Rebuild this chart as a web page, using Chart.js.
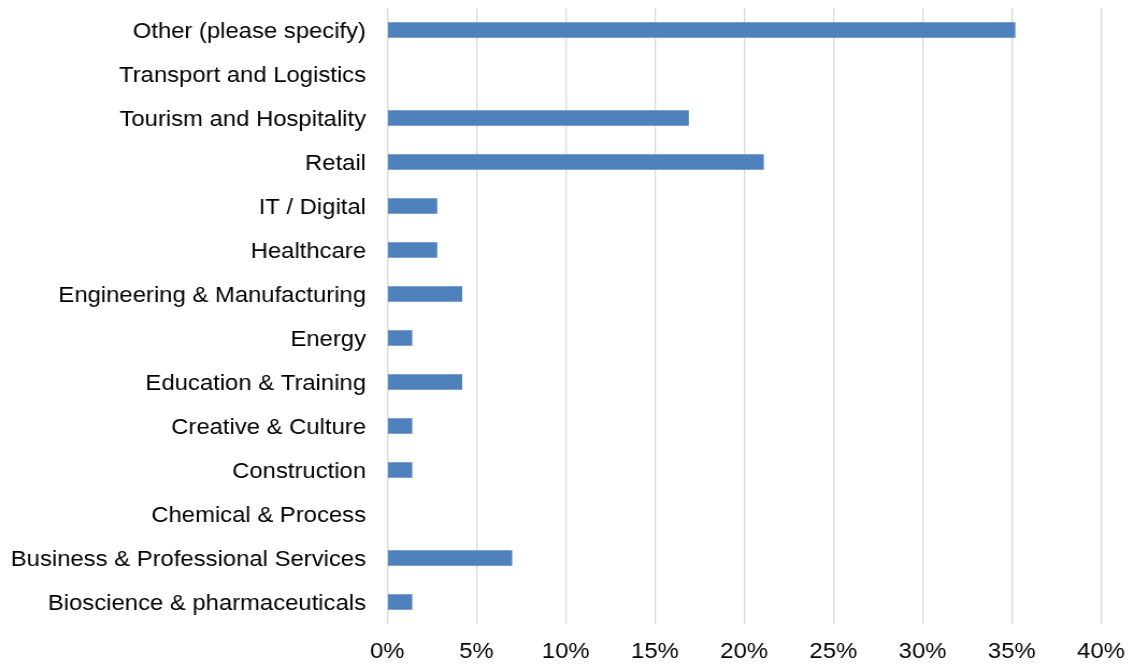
<!DOCTYPE html>
<html>
<head>
<meta charset="utf-8">
<script src="https://cdn.jsdelivr.net/npm/chart.js@4"></script>
<style>
  html, body { margin: 0; padding: 0; background: #ffffff; overflow: hidden; }
  #wrap { position: absolute; left: 0; top: 0; width: 1055px; height: 666px; transform: scaleX(1.07488); transform-origin: 0 0; }
</style>
</head>
<body>
<div id="wrap"><canvas id="c"></canvas></div>
<script>
const categories = [
  "Other (please specify)",
  "Transport and Logistics",
  "Tourism and Hospitality",
  "Retail",
  "IT / Digital",
  "Healthcare",
  "Engineering & Manufacturing",
  "Energy",
  "Education & Training",
  "Creative & Culture",
  "Construction",
  "Chemical & Process",
  "Business & Professional Services",
  "Bioscience & pharmaceuticals"
];
const shares = [35.2, 0, 16.9, 21.1, 2.8, 2.8, 4.2, 1.4, 4.2, 1.4, 1.4, 0, 7.0, 1.4];
const xTickValues = [0, 5, 10, 15, 20, 25, 30, 35, 40];

const FONT = { family: "'Liberation Sans', Arial, sans-serif", size: 22.2 };

function zeroPadding(axis) {
  axis.paddingTop = 0;
  axis.paddingBottom = 0;
  axis.paddingLeft = 0;
  axis.paddingRight = 0;
}

new Chart(document.getElementById('c'), {
  type: 'bar',
  data: {
    labels: categories,
    datasets: [{
      data: shares,
      backgroundColor: '#4f81bd',
      borderWidth: 0,
      barPercentage: 0.35,
      categoryPercentage: 1.0
    }]
  },
  options: {
    indexAxis: 'y',
    responsive: true,
    maintainAspectRatio: false,
    animation: false,
    devicePixelRatio: 1,
    layout: { padding: { left: 0, right: 30.7, top: 8, bottom: 0 } },
    plugins: { legend: { display: false }, tooltip: { enabled: false } },
    scales: {
      x: {
        min: 0,
        max: 40,
        afterBuildTicks: (axis) => { axis.ticks = xTickValues.map(v => ({ value: v })); },
        afterFit: (axis) => { axis.height = 42; zeroPadding(axis); },
        grid: { color: '#d9d9d9', lineWidth: 1.3, drawTicks: false },
        border: { display: false },
        ticks: {
          color: '#000000',
          font: FONT,
          padding: 15,
          maxRotation: 0,
          callback: (v) => v + '%'
        }
      },
      y: {
        afterFit: (axis) => { axis.width = 360.3; zeroPadding(axis); },
        grid: { display: false, drawTicks: false },
        border: { display: false },
        ticks: {
          color: '#000000',
          font: FONT,
          padding: 19.8,
          labelOffset: 1.5,
          autoSkip: false
        }
      }
    }
  }
});
</script>
</body>
</html>
